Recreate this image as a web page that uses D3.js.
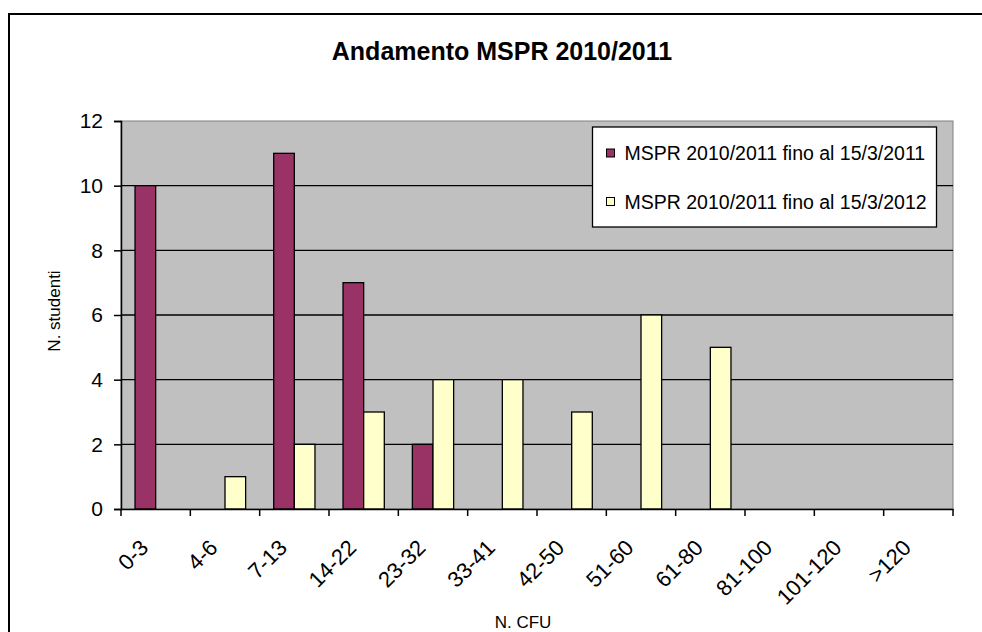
<!DOCTYPE html>
<html>
<head>
<meta charset="utf-8">
<script src="https://cdnjs.cloudflare.com/ajax/libs/d3/7.8.5/d3.min.js"></script>
<style>
  html, body { margin: 0; background: #fff; overflow: hidden; }
  svg { display: block; }
  text { font-family: Arial, 'Liberation Sans', sans-serif; fill: #000; }
</style>
</head>
<body>
<div class="chart"></div>
<script>
// data
const categories = ['0-3', '4-6', '7-13', '14-22', '23-32', '33-41', '42-50', '51-60', '61-80', '81-100', '101-120', '>120'];
const seriesNames = ['MSPR 2010/2011 fino al 15/3/2011', 'MSPR 2010/2011 fino al 15/3/2012'];
const values2011 = [10, 0, 11, 7, 2, 0, 0, 0, 0, 0, 0, 0];
const values2012 = [0, 1, 2, 3, 4, 4, 3, 6, 5, 0, 0, 0];
const yTicks = [0, 2, 4, 6, 8, 10, 12];
const colors = ['#993366', '#FFFFCC'];

const width = 982, height = 632;
const plot = { left: 121, right: 953, top: 121, bottom: 509 };

const svg = d3.select('.chart').append('svg')
  .attr('width', width)
  .attr('height', height);

// outer chart frame: only the left and top edges fall inside the picture
svg.append('path')
  .attr('d', `M9,${height + 5} L9,14 L${width + 5},14`)
  .attr('fill', 'none')
  .attr('stroke', '#000')
  .attr('stroke-width', 2);

const x0 = d3.scaleBand()
  .domain(categories)
  .range([plot.left, plot.right])
  .padding(0);

const x1 = d3.scaleBand()
  .domain(seriesNames)
  .range([0, x0.bandwidth()])
  .paddingInner(0)
  .paddingOuter(0.68);

const y = d3.scaleLinear()
  .domain([0, 12])
  .range([plot.bottom, plot.top]);

// plot area
svg.append('rect')
  .attr('x', plot.left).attr('y', plot.top)
  .attr('width', plot.right - plot.left)
  .attr('height', plot.bottom - plot.top)
  .attr('fill', '#C0C0C0')
  .attr('stroke', '#808080')
  .attr('stroke-width', 1);

// gridlines
svg.append('g')
  .selectAll('line')
  .data(yTicks.filter(d => d > 0 && d < 12))
  .enter().append('line')
  .attr('x1', plot.left).attr('x2', plot.right)
  .attr('y1', d => y(d)).attr('y2', d => y(d))
  .attr('stroke', '#000')
  .attr('stroke-width', 1.3);

// bars
const rows = categories.map((c, i) => ({ cat: c, vals: [values2011[i], values2012[i]] }));

const groups = svg.append('g').selectAll('g')
  .data(rows)
  .enter().append('g')
  .attr('transform', d => `translate(${x0(d.cat)},0)`);

groups.selectAll('rect')
  .data(d => d.vals.map((v, j) => ({ name: seriesNames[j], value: v, j: j })).filter(b => b.value > 0))
  .enter().append('rect')
  .attr('x', d => x1(d.name))
  .attr('y', d => y(d.value))
  .attr('width', x1.bandwidth())
  .attr('height', d => y(0) - y(d.value))
  .attr('fill', d => colors[d.j])
  .attr('stroke', '#000')
  .attr('stroke-width', 1.3);

// y axis
const yAxis = svg.append('g')
  .attr('transform', `translate(${plot.left},0)`)
  .call(d3.axisLeft(y).tickValues(yTicks).tickSize(7).tickPadding(11));
yAxis.select('.domain').attr('stroke', '#000').attr('stroke-width', 1.5);
yAxis.selectAll('.tick line').attr('stroke', '#000').attr('stroke-width', 1.5);
yAxis.selectAll('.tick text')
  .attr('font-size', 21)
  .attr('font-family', "Arial, 'Liberation Sans', sans-serif");

// x axis: ticks on category boundaries, rotated labels in the middle
const xAxis = svg.append('g')
  .attr('transform', `translate(0,${plot.bottom})`)
  .call(d3.axisBottom(x0).tickSize(0).tickFormat(''));
xAxis.select('.domain').attr('stroke', '#000').attr('stroke-width', 1.5);

const bounds = categories.map(c => x0(c)).concat([plot.right]);
xAxis.selectAll('.bound')
  .data(bounds)
  .enter().append('line')
  .attr('class', 'bound')
  .attr('x1', d => d).attr('x2', d => d)
  .attr('y1', 0).attr('y2', 7)
  .attr('stroke', '#000')
  .attr('stroke-width', 1.5);

xAxis.selectAll('.lab')
  .data(categories)
  .enter().append('text')
  .attr('class', 'lab')
  .attr('transform', d => `translate(${x0(d) + x0.bandwidth() / 2 - 6},40) rotate(-45)`)
  .attr('text-anchor', 'end')
  .attr('font-size', 22)
  .text(d => d);

// titles
svg.append('text')
  .attr('x', 502).attr('y', 60)
  .attr('text-anchor', 'middle')
  .style('font-size', '25px')
  .style('font-weight', 'bold')
  .text('Andamento MSPR 2010/2011');

svg.append('text')
  .attr('transform', 'translate(60,311) rotate(-90)')
  .attr('text-anchor', 'middle')
  .style('font-size', '17px')
  .text('N. studenti');

svg.append('text')
  .attr('x', 523).attr('y', 628)
  .attr('text-anchor', 'middle')
  .style('font-size', '17px')
  .text('N. CFU');

// legend
const legend = svg.append('g').attr('transform', 'translate(592.5,127)');
legend.append('rect')
  .attr('width', 344).attr('height', 100)
  .attr('fill', '#fff')
  .attr('stroke', '#000')
  .attr('stroke-width', 1.3);

const items = legend.selectAll('.item')
  .data(seriesNames)
  .enter().append('g')
  .attr('class', 'item')
  .attr('transform', (d, i) => `translate(0,${26 + i * 48.5})`);

items.append('rect')
  .attr('x', 14).attr('y', -4)
  .attr('width', 8).attr('height', 8)
  .attr('fill', (d, i) => colors[i])
  .attr('stroke', '#000')
  .attr('stroke-width', 1);

items.append('text')
  .attr('x', 32).attr('dy', '0.36em')
  .style('font-size', '19.5px')
  .text(d => d);
</script>
</body>
</html>
